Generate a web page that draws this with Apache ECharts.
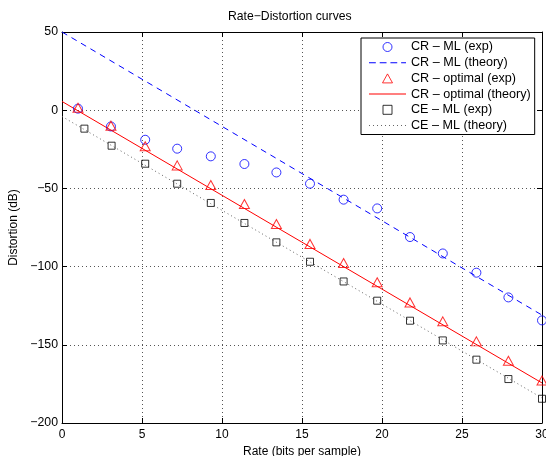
<!DOCTYPE html>
<html>
<head>
<meta charset="utf-8">
<script src="https://cdn.jsdelivr.net/npm/echarts@6/dist/echarts.min.js"></script>
<style>html,body{margin:0;padding:0;background:#fff}#c{width:546px;height:456px}</style>
</head>
<body>
<div id="c"></div>
<script>
// ---- data ----
var rateExp = [1, 3.06, 5.2, 7.2, 9.3, 11.4, 13.4, 15.5, 17.6, 19.7, 21.75, 23.8, 25.9, 27.9, 30];
var crMlExp = [1, -10.4, -18.9, -24.6, -29.5, -34.4, -39.8, -47, -57.2, -62.8, -81.1, -91.6, -103.9, -119.7, -134.4];
var crOptExp = [1.6, -9.9, -23.1, -35.3, -47.8, -60, -72.8, -85.5, -97.7, -110, -122.9, -135, -147.8, -160.2, -172.8];
var rateCe = [1.4, 3.1, 5.2, 7.2, 9.3, 11.4, 13.4, 15.5, 17.6, 19.7, 21.75, 23.8, 25.9, 27.9, 30];
var ceMlExp = [-11.8, -22.7, -34.2, -47, -59.3, -72.1, -84.5, -96.9, -109.5, -121.8, -134.6, -147.2, -159.5, -171.9, -184.5];
var rateTheory = [0, 30];
var crMlTheory = [50, -131];
var crOptTheory = [5.6, -174.4];
var ceMlTheory = [-4, -184];
var seriesNames = ['CR – ML (exp)', 'CR – ML (theory)', 'CR – optimal (exp)', 'CR – optimal (theory)', 'CE – ML (exp)', 'CE – ML (theory)'];
var titleText = 'Rate−Distortion curves';
var xName = 'Rate (bits per sample)';
var yName = 'Distortion (dB)';

function pairs(xs, ys) { return xs.map(function (x, i) { return [x, ys[i]]; }); }

var FONT = "'Liberation Sans', Arial, Helvetica, sans-serif";
var chart = echarts.init(document.getElementById('c'), null, {renderer: 'canvas'});

var tickStyle = {show: true, inside: true, length: 5, lineStyle: {color: '#000', width: 1}};
var axisLineStyle = {show: true, onZero: false, lineStyle: {color: '#000', width: 1}};
var gridLine = {show: true, lineStyle: {color: '#555', width: 1, type: [1, 3]}};
function minusFmt(v) { return String(v).replace('-', '−'); }

var dashPath = 'path://M0,0h7v1h-7zM11,0h7v1h-7zM22,0h7v1h-7zM33,0h5v1h-5z';
var solidPath = 'path://M0,0h38v1h-38z';
var dotPath = 'path://M0,0h1v1h-1zM4,0h1v1h-1zM8,0h1v1h-1zM12,0h1v1h-1zM16,0h1v1h-1zM20,0h1v1h-1zM24,0h1v1h-1zM28,0h1v1h-1zM32,0h1v1h-1zM36,0h1v1h-1z';
var triPath = 'path://M5,0L10,9L0,9Z';
var sqPath = 'path://M0,0L7,0L7,7L0,7Z';

chart.setOption({
  animation: false,
  backgroundColor: '#fff',
  title: {
    text: titleText, left: 228, top: 11, padding: 0,
    textStyle: {fontFamily: FONT, fontSize: 12.2, fontWeight: 'normal', color: '#000'}
  },
  grid: {left: 62, right: 4, top: 32, bottom: 33, show: false, containLabel: false, outerBoundsMode: 'none'},
  legend: {
    orient: 'vertical', left: 361, top: 38,
    padding: [2, 4, 2, 8], itemGap: 1.7, itemWidth: 37, itemHeight: 9,
    backgroundColor: '#fff', borderColor: '#000', borderWidth: 1,
    selectedMode: false, symbolKeepAspect: true,
    textStyle: {fontFamily: FONT, fontSize: 12.6, color: '#000', lineHeight: 14},
    data: [
      {name: seriesNames[0], icon: 'circle', itemStyle: {color: 'rgba(0,0,0,0)', borderColor: '#0000ff', borderWidth: 1}},
      {name: seriesNames[1], icon: dashPath, itemStyle: {color: '#0000ff', borderWidth: 0}},
      {name: seriesNames[2], icon: triPath, itemStyle: {color: 'rgba(0,0,0,0)', borderColor: '#ff0000', borderWidth: 1}},
      {name: seriesNames[3], icon: solidPath, itemStyle: {color: '#ff0000', borderWidth: 0}},
      {name: seriesNames[4], icon: sqPath, itemStyle: {color: 'rgba(0,0,0,0)', borderColor: '#000', borderWidth: 1}},
      {name: seriesNames[5], icon: dotPath, itemStyle: {color: '#666', borderWidth: 0}}
    ]
  },
  xAxis: [{
    type: 'value', position: 'bottom', min: 0, max: 30, interval: 5,
    name: xName, nameLocation: 'middle', nameGap: 11,
    nameTextStyle: {fontFamily: FONT, fontSize: 12, color: '#000'},
    axisLine: axisLineStyle, axisTick: tickStyle,
    axisLabel: {fontFamily: FONT, fontSize: 12, color: '#000', margin: 6},
    splitLine: gridLine
  }, {
    type: 'value', position: 'top', min: 0, max: 30, interval: 5,
    axisLine: axisLineStyle, axisTick: tickStyle,
    axisLabel: {show: false}, splitLine: {show: false}
  }],
  yAxis: [{
    type: 'value', position: 'left', min: -200, max: 50, interval: 50,
    name: yName, nameLocation: 'middle', nameGap: 34,
    nameTextStyle: {fontFamily: FONT, fontSize: 12, color: '#000'},
    axisLine: axisLineStyle, axisTick: tickStyle,
    axisLabel: {fontFamily: FONT, fontSize: 12.3, color: '#000', margin: 4, formatter: minusFmt},
    splitLine: gridLine
  }, {
    type: 'value', position: 'right', min: -200, max: 50, interval: 50,
    axisLine: axisLineStyle, axisTick: tickStyle,
    axisLabel: {show: false}, splitLine: {show: false}
  }],
  series: [
    {name: seriesNames[1], type: 'line', data: pairs(rateTheory, crMlTheory), symbol: 'none',
     itemStyle: {color: '#0000ff'}, lineStyle: {color: '#0000ff', width: 1, type: [6, 5]}, z: 2},
    {name: seriesNames[3], type: 'line', data: pairs(rateTheory, crOptTheory), symbol: 'none',
     itemStyle: {color: '#ff0000'}, lineStyle: {color: '#ff0000', width: 1}, z: 2},
    {name: seriesNames[5], type: 'line', data: pairs(rateTheory, ceMlTheory), symbol: 'none',
     itemStyle: {color: '#666'}, lineStyle: {color: '#666', width: 1, type: [1, 3]}, z: 2},
    {name: seriesNames[0], type: 'scatter', data: pairs(rateExp, crMlExp), symbol: 'circle', symbolSize: 9,
     itemStyle: {color: 'rgba(0,0,0,0)', borderColor: '#0000ff', borderWidth: 1}, z: 3},
    {name: seriesNames[2], type: 'scatter', data: pairs(rateExp, crOptExp), symbol: 'triangle', symbolSize: [10, 9],
     itemStyle: {color: 'rgba(0,0,0,0)', borderColor: '#ff0000', borderWidth: 1}, z: 3},
    {name: seriesNames[4], type: 'scatter', data: pairs(rateCe, ceMlExp), symbol: 'rect', symbolSize: 7,
     itemStyle: {color: 'rgba(0,0,0,0)', borderColor: '#000', borderWidth: 1}, z: 3}
  ]
});
</script>
</body>
</html>
